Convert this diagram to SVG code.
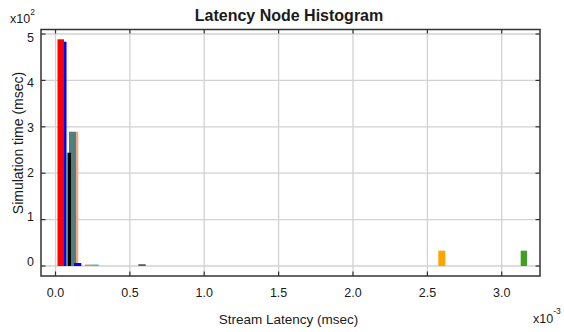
<svg xmlns="http://www.w3.org/2000/svg" width="564" height="332" viewBox="0 0 564 332">
<style>
text{font-family:"Liberation Sans",Arial,sans-serif;fill:#1a1a1a}
.tk{font-size:12.5px}
.grid line{stroke:#d2d2d2;stroke-width:1.3}
.ticks line{stroke:#333;stroke-width:1.2}
</style>
<rect width="564" height="332" fill="#fff"/>
<text x="289" y="21" text-anchor="middle" style="font-size:16px;font-weight:bold">Latency Node Histogram</text>
<g class="grid">
<line x1="55.5" y1="29.5" x2="55.5" y2="276"/>
<line x1="129.9" y1="29.5" x2="129.9" y2="276"/>
<line x1="204.2" y1="29.5" x2="204.2" y2="276"/>
<line x1="278.6" y1="29.5" x2="278.6" y2="276"/>
<line x1="353" y1="29.5" x2="353" y2="276"/>
<line x1="427.4" y1="29.5" x2="427.4" y2="276"/>
<line x1="501.7" y1="29.5" x2="501.7" y2="276"/>
<line x1="41" y1="34" x2="540" y2="34"/>
<line x1="41" y1="80.4" x2="540" y2="80.4"/>
<line x1="41" y1="126.8" x2="540" y2="126.8"/>
<line x1="41" y1="173.2" x2="540" y2="173.2"/>
<line x1="41" y1="219.6" x2="540" y2="219.6"/>
<line x1="41" y1="266" x2="540" y2="266"/>
</g>
<g id="bars">
<rect x="57.5" y="39.3" width="6.5" height="226.7" fill="#ff0000"/>
<rect x="64" y="41.7" width="2.5" height="224.3" fill="#0000ff"/>
<rect x="69" y="131.7" width="7" height="134.3" fill="#4f8080"/>
<rect x="66.5" y="152.7" width="1.6" height="113.3" fill="#1fa070"/>
<rect x="68" y="152.7" width="3" height="113.3" fill="#000000"/>
<rect x="76" y="131.7" width="2.3" height="134.3" fill="#f4a582"/>
<rect x="74" y="263" width="7.3" height="3" fill="#0000ff"/>
<rect x="85" y="264.5" width="6.7" height="1.5" fill="#e0906a"/>
<rect x="91.5" y="264.5" width="7.2" height="1.5" fill="#40c0c0"/>
<rect x="138.3" y="264.3" width="7.4" height="1.5" fill="#404040"/>
<rect x="438.3" y="250.7" width="7" height="15.3" fill="#ffa500"/>
<rect x="520.7" y="250.7" width="6.3" height="15.3" fill="#3ea024"/>
</g>
<rect x="41" y="29.5" width="499" height="246.5" fill="none" stroke="#333" stroke-width="1.5"/>
<g class="ticks">
<line x1="55.5" y1="276" x2="55.5" y2="271.5"/><line x1="55.5" y1="29.5" x2="55.5" y2="33.5"/>
<line x1="129.9" y1="276" x2="129.9" y2="271.5"/><line x1="129.9" y1="29.5" x2="129.9" y2="33.5"/>
<line x1="204.2" y1="276" x2="204.2" y2="271.5"/><line x1="204.2" y1="29.5" x2="204.2" y2="33.5"/>
<line x1="278.6" y1="276" x2="278.6" y2="271.5"/><line x1="278.6" y1="29.5" x2="278.6" y2="33.5"/>
<line x1="353" y1="276" x2="353" y2="271.5"/><line x1="353" y1="29.5" x2="353" y2="33.5"/>
<line x1="427.4" y1="276" x2="427.4" y2="271.5"/><line x1="427.4" y1="29.5" x2="427.4" y2="33.5"/>
<line x1="501.7" y1="276" x2="501.7" y2="271.5"/><line x1="501.7" y1="29.5" x2="501.7" y2="33.5"/>
<line x1="41" y1="34" x2="45.5" y2="34"/><line x1="540" y1="34" x2="535.5" y2="34"/>
<line x1="41" y1="80.4" x2="45.5" y2="80.4"/><line x1="540" y1="80.4" x2="535.5" y2="80.4"/>
<line x1="41" y1="126.8" x2="45.5" y2="126.8"/><line x1="540" y1="126.8" x2="535.5" y2="126.8"/>
<line x1="41" y1="173.2" x2="45.5" y2="173.2"/><line x1="540" y1="173.2" x2="535.5" y2="173.2"/>
<line x1="41" y1="219.6" x2="45.5" y2="219.6"/><line x1="540" y1="219.6" x2="535.5" y2="219.6"/>
<line x1="41" y1="266" x2="45.5" y2="266"/><line x1="540" y1="266" x2="535.5" y2="266"/>
</g>
<g class="tk" text-anchor="end">
<text x="34" y="42">5</text>
<text x="34" y="87">4</text>
<text x="34" y="132">3</text>
<text x="34" y="176.5">2</text>
<text x="34" y="221">1</text>
<text x="34" y="265.5">0</text>
</g>
<g class="tk" text-anchor="middle">
<text x="55.5" y="297">0.0</text>
<text x="129.9" y="297">0.5</text>
<text x="204.2" y="297">1.0</text>
<text x="278.6" y="297">1.5</text>
<text x="353" y="297">2.0</text>
<text x="427.4" y="297">2.5</text>
<text x="501.7" y="297">3.0</text>
</g>
<text x="10" y="22.5" class="tk">x10<tspan dy="-8" style="font-size:8.5px">2</tspan></text>
<text x="533" y="323.3" class="tk">x10<tspan dy="-9" style="font-size:8.5px">-3</tspan></text>
<text x="288.5" y="323.5" text-anchor="middle" style="font-size:13.5px">Stream Latency (msec)</text>
<text transform="translate(22.5,143) rotate(-90)" text-anchor="middle" style="font-size:14px">Simulation time (msec)</text>
</svg>
